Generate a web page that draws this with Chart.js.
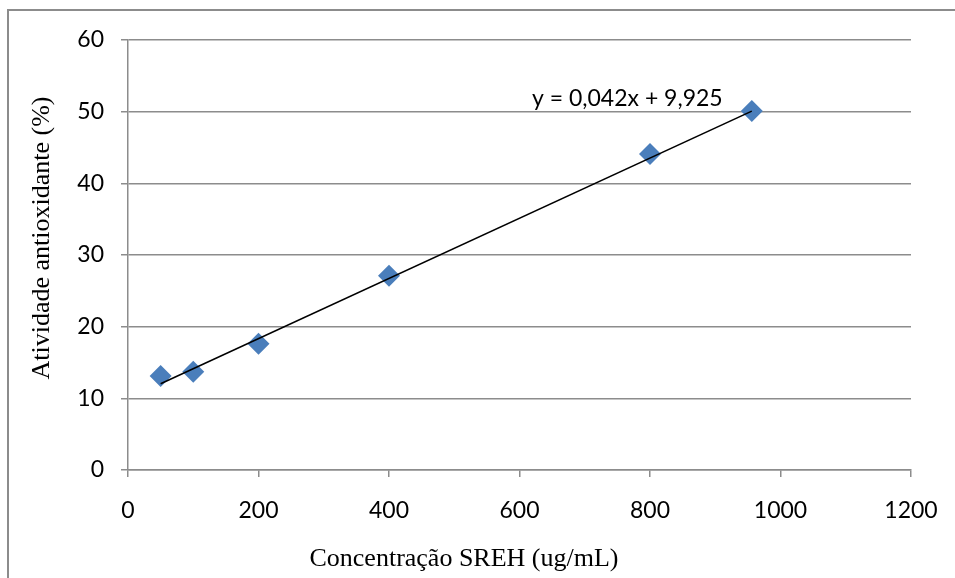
<!DOCTYPE html>
<html>
<head>
<meta charset="utf-8">
<script src="https://cdn.jsdelivr.net/npm/chart.js@4/dist/chart.umd.min.js"></script>
<style>
    body { margin: 0; background: #fff; }
    #wrap { position: relative; width: 955px; height: 578px; }
    #frame { position: absolute; left: 7px; top: 9px; right: 0; bottom: 0;
             border-top: 2px solid #8c8c8c; border-left: 2px solid #8c8c8c; }
    canvas { position: absolute; left: 0; top: 0; }
</style>
</head>
<body>
<div id="wrap">
    <div id="frame"></div>
    <canvas id="scatter-chart" width="955" height="578"></canvas>
</div>
<script>
// data
var concentracao = [50, 100, 200, 400, 800, 956];
var atividade = [13.1, 13.7, 17.6, 27.1, 44.1, 50.1];
var xTicks = [0, 200, 400, 600, 800, 1000, 1200];
var yTicks = [0, 10, 20, 30, 40, 50, 60];

// linear trendline from the equation shown on the chart
var slope = 0.042, intercept = 9.925;
var xMin = Math.min.apply(null, concentracao);
var xMax = Math.max.apply(null, concentracao);
var trend = [
    { x: xMin, y: slope * xMin + intercept },
    { x: xMax, y: slope * xMax + intercept }
];

var points = concentracao.map(function (c, i) { return { x: c, y: atividade[i] }; });

var gridColor = '#8c8c8c';
var tickFont = { family: 'Lato', size: 23 };

// axis titles and equation label
var labelsPlugin = {
    id: 'labels',
    afterDraw: function (chart) {
        var ctx = chart.ctx;
        ctx.save();
        ctx.fillStyle = '#000';
        ctx.font = '26px "Liberation Serif"';
        ctx.textAlign = 'center';
        ctx.textBaseline = 'middle';
        ctx.fillText('Concentração SREH (ug/mL)', 464, 559);
        ctx.translate(42, 238);
        ctx.rotate(-Math.PI / 2);
        ctx.fillText('Atividade antioxidante (%)', 0, 0);
        ctx.restore();

        ctx.save();
        ctx.font = '23px Lato';
        ctx.fillStyle = '#000';
        ctx.textAlign = 'left';
        ctx.textBaseline = 'alphabetic';
        ctx.fillText('y = 0,042x + 9,925', 532, 106);
        ctx.restore();
    }
};

new Chart(document.getElementById('scatter-chart'), {
    type: 'scatter',
    data: {
        datasets: [
            {
                label: 'Atividade',
                data: points,
                pointStyle: 'rectRot',
                pointRadius: 11,
                backgroundColor: '#4a7ebb',
                borderColor: '#4a7ebb',
                borderWidth: 0,
                order: 2
            }, {
                label: 'Linear',
                type: 'line',
                data: trend,
                borderColor: '#000',
                borderWidth: 1.6,
                pointRadius: 0,
                fill: false,
                order: 1
            }
        ]
    },
    options: {
        responsive: false,
        animation: false,
        layout: { padding: { left: 0, right: 44, top: 40, bottom: 0 } },
        plugins: {
            legend: { display: false },
            tooltip: { enabled: false }
        },
        scales: {
            x: {
                type: 'linear',
                min: 0, max: 1200,
                afterBuildTicks: function (s) { s.ticks = xTicks.map(function (v) { return { value: v }; }); },
                afterFit: function (s) { s.height = 108; s.paddingLeft = 0; s.paddingRight = 0; },
                grid: { drawOnChartArea: false, drawTicks: true, tickLength: 7, color: gridColor, lineWidth: 1.5 },
                border: { color: gridColor, width: 1.5 },
                ticks: {
                    color: '#000', font: tickFont, padding: 20, maxRotation: 0,
                    callback: function (v) { return String(v); }
                }
            },
            y: {
                min: 0, max: 60,
                afterBuildTicks: function (s) { s.ticks = yTicks.map(function (v) { return { value: v }; }); },
                afterFit: function (s) { s.width = 128; s.paddingTop = 0; s.paddingBottom = 0; },
                grid: { drawTicks: true, tickLength: 7, color: gridColor, lineWidth: 1.5 },
                border: { color: gridColor, width: 1.5 },
                ticks: { color: '#000', font: tickFont, padding: 17 }
            }
        }
    },
    plugins: [labelsPlugin]
});
</script>
</body>
</html>
